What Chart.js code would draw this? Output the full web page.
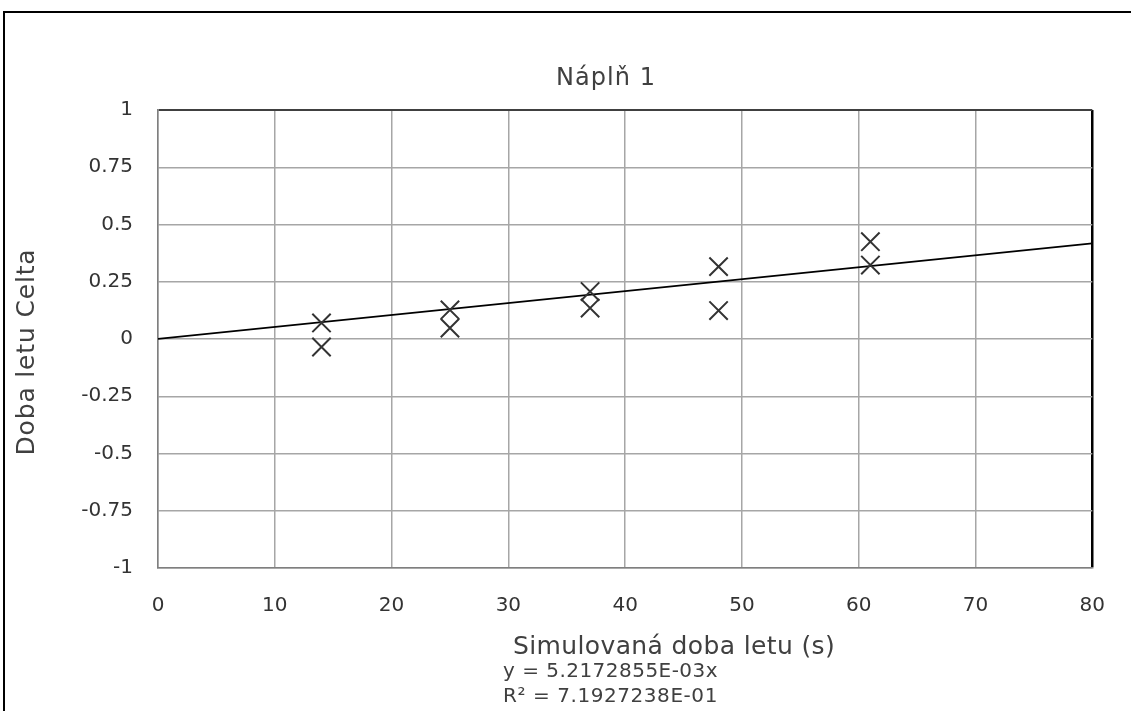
<!DOCTYPE html>
<html>
<head>
<meta charset="utf-8">
<script src="https://cdn.jsdelivr.net/npm/chart.js@4.4.1/dist/chart.umd.min.js"></script>
<style>
  html, body { margin: 0; padding: 0; background: #fff; }
  #wrap { width: 1131px; height: 711px; position: relative; }
</style>
</head>
<body>
<div id="wrap"><canvas id="c" width="1131" height="711"></canvas></div>
<script>
// ---- data ----
const titleText = "Náplň 1";
const xTitle = "Simulovaná doba letu (s)";
const yTitle = "Doba letu Celta";
const eqLine1 = "y = 5.2172855E-03x";
const eqLine2 = "R² = 7.1927238E-01";

const pointX = [14, 14, 25, 25, 37, 37, 48, 48, 61, 61];
const pointY = [0.07, -0.035, 0.127, 0.048, 0.207, 0.135, 0.316, 0.124, 0.425, 0.323];

const trendX = [0, 80];
const trendY = [0, 0.4174];

const xTicks = [0, 10, 20, 30, 40, 50, 60, 70, 80];
const yTicks = [-1, -0.75, -0.5, -0.25, 0, 0.25, 0.5, 0.75, 1];

const FONT = "'DejaVu Sans', 'Open Sans', sans-serif";

function fitText(ctx, text, x, y, size, targetW, align) {
  ctx.font = size + "px " + FONT;
  ctx.letterSpacing = '0px';
  const w = ctx.measureText(text).width;
  const ls = (targetW - w) / text.length;
  ctx.letterSpacing = ls.toFixed(2) + 'px';
  ctx.textAlign = 'left';
  let left = x;
  if (align === 'center') left = x - targetW / 2;
  ctx.fillText(text, left, y);
  ctx.letterSpacing = '0px';
}

const decor = {
  id: 'decor',
  beforeDraw(chart) {
    const ctx = chart.ctx;
    ctx.save();
    ctx.fillStyle = '#fff';
    ctx.fillRect(0, 0, chart.width, chart.height);
    ctx.strokeStyle = '#000';
    ctx.lineWidth = 2;
    ctx.beginPath();
    ctx.moveTo(4, chart.height + 2);
    ctx.lineTo(4, 12);
    ctx.lineTo(chart.width + 2, 12);
    ctx.stroke();
    ctx.restore();
  },
  afterDraw(chart) {
    const ctx = chart.ctx;
    ctx.save();
    ctx.fillStyle = '#404040';
    ctx.textBaseline = 'middle';
    fitText(ctx, titleText, 606, 79, 24, 100, 'center');
    fitText(ctx, xTitle, 674, 647, 25, 322, 'center');
    fitText(ctx, eqLine1, 503, 672, 20, 215, 'left');
    fitText(ctx, eqLine2, 503, 697, 20, 215, 'left');
    ctx.translate(27, 352);
    ctx.rotate(-Math.PI / 2);
    fitText(ctx, yTitle, 0, 0, 25, 207, 'center');
    ctx.restore();
  }
};

new Chart(document.getElementById('c'), {
  type: 'scatter',
  data: {
    datasets: [
      {
        label: 'data',
        data: pointX.map((x, i) => ({ x: x, y: pointY[i] })),
        pointStyle: 'crossRot',
        pointRadius: 13,
        pointBorderWidth: 2,
        borderColor: '#333',
        backgroundColor: '#333',
        showLine: false
      },
      {
        label: 'trend',
        type: 'line',
        data: trendX.map((x, i) => ({ x: x, y: trendY[i] })),
        borderColor: '#000',
        borderWidth: 1.75,
        pointRadius: 0,
        fill: false
      }
    ]
  },
  options: {
    responsive: false,
    animation: false,
    devicePixelRatio: 1,
    layout: { padding: { left: 0, top: 110, right: 37, bottom: 0 } },
    plugins: {
      legend: { display: false },
      tooltip: { enabled: false },
      title: { display: false }
    },
    scales: {
      x: {
        type: 'linear',
        min: 0, max: 80,
        afterFit(s) { s.height = 143; },
        afterBuildTicks(s) { s.ticks = xTicks.map(v => ({ value: v })); },
        ticks: { color: '#333', font: { family: FONT, size: 20 }, padding: 26, maxRotation: 0 },
        grid: {
          drawTicks: false,
          color: c => (c.tick && c.tick.value === 80) ? '#000' : '#a6a6a6',
          lineWidth: c => (c.tick && c.tick.value === 80) ? 2.5 : 1.5
        },
        border: { display: true, color: '#7f7f7f', width: 1.5 }
      },
      y: {
        type: 'linear',
        min: -1, max: 1,
        afterFit(s) { s.width = 158; },
        afterBuildTicks(s) { s.ticks = yTicks.map(v => ({ value: v })); },
        ticks: { color: '#333', font: { family: FONT, size: 20 }, padding: 25,
                 callback: v => String(v) },
        grid: {
          drawTicks: false,
          color: c => (c.tick && c.tick.value === 1) ? '#404040' : '#a6a6a6',
          lineWidth: c => (c.tick && c.tick.value === 1) ? 2 : 1.5
        },
        border: { display: true, color: '#7f7f7f', width: 1.5 }
      }
    }
  },
  plugins: [decor]
});
</script>
</body>
</html>
